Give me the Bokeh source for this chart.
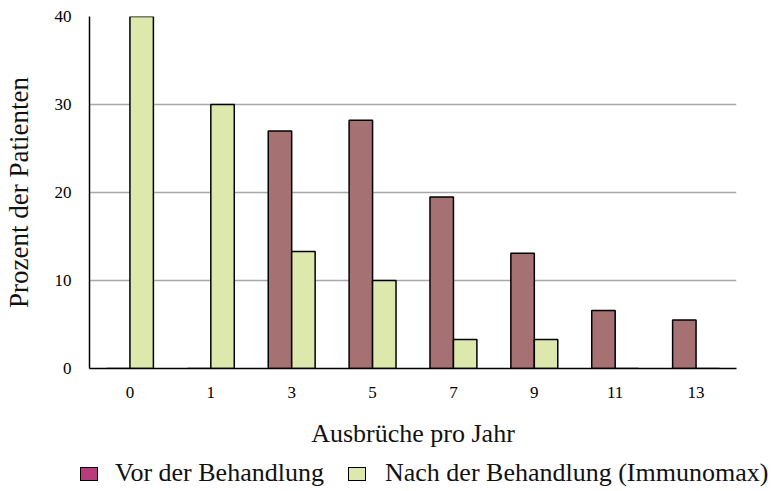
from bokeh.plotting import figure
from bokeh.layouts import column
from bokeh.models import FactorRange, Range1d, ColumnDataSource, Div
from bokeh.transform import dodge
from bokeh.embed import file_html
from bokeh.resources import INLINE

categories = ["0", "1", "3", "5", "7", "9", "11", "13"]
vor = [0, 0, 27.0, 28.2, 19.5, 13.1, 6.6, 5.5]
nach = [40, 30, 13.3, 10.0, 3.3, 3.3, 0, 0]
y_ticks = [0, 10, 20, 30, 40]
series_labels = ["Vor der Behandlung", "Nach der Behandlung (Immunomax)"]

FONT = "Liberation Serif"
VOR_COLOR = "#A57172"
VOR_LEGEND_COLOR = "#B83C7C"
NACH_COLOR = "#DCE8AC"

src = ColumnDataSource(dict(cat=categories, vor=vor, nach=nach))

p = figure(x_range=FactorRange(*categories, range_padding=0), y_range=Range1d(0, 40),
           frame_width=647, frame_height=352, output_backend="svg", toolbar_location=None,
           min_border_left=81, min_border_right=37, min_border_top=16, min_border_bottom=84)
p.outline_line_color = None

bw = 0.29
p.vbar(x=dodge("cat", -bw / 2, range=p.x_range), top="vor", width=bw, source=src,
       fill_color=VOR_COLOR, line_color="black", line_width=1.5)
p.vbar(x=dodge("cat", bw / 2, range=p.x_range), top="nach", width=bw, source=src,
       fill_color=NACH_COLOR, line_color="black", line_width=1.5)

p.xgrid.grid_line_color = None
p.ygrid.grid_line_color = "#A8A8A8"
p.ygrid.grid_line_width = 1.5
p.yaxis.ticker = y_ticks

for ax in (p.xaxis[0], p.yaxis[0]):
    ax.major_tick_line_color = None
    ax.minor_tick_line_color = None
    ax.major_tick_out = 0
    ax.major_tick_in = 0
    ax.axis_line_color = "black"
    ax.axis_line_width = 1.5
    ax.major_label_text_font = FONT
    ax.major_label_text_font_size = "17px"
    ax.major_label_text_color = "black"
    ax.axis_label_text_font = FONT
    ax.axis_label_text_font_style = "normal"
    ax.axis_label_text_color = "#111111"
    ax.major_label_standoff = 18
    ax.axis_label_standoff = 18

p.xaxis.axis_label = "Ausbrüche pro Jahr"
p.xaxis.axis_label_text_font_size = "26px"
p.yaxis.axis_label = "Prozent der Patienten"
p.yaxis.axis_label_text_font_size = "27px"

# legend strip below the chart (HTML, real text)
def swatch(left, color):
    return (f'<span style="position:absolute;left:{left}px;top:15px;width:18px;height:14px;'
            f'background:{color};border:1.5px solid #000;"></span>')

def label(left, text):
    return (f'<span style="position:absolute;left:{left}px;top:8px;line-height:26px;'
            f'white-space:nowrap;">{text}</span>')

html = ('<div style="position:relative;width:765px;height:36px;'
        f'font-family:\'{FONT}\';font-size:26px;color:#111;">'
        + swatch(80, VOR_LEGEND_COLOR) + label(115, series_labels[0])
        + swatch(348, NACH_COLOR) + label(385, series_labels[1])
        + '</div>')
legend_div = Div(text=html, width=773, height=36, margin=(0, 0, 0, 0))

open("out.html", "w").write(file_html(column(p, legend_div, spacing=0), INLINE))
